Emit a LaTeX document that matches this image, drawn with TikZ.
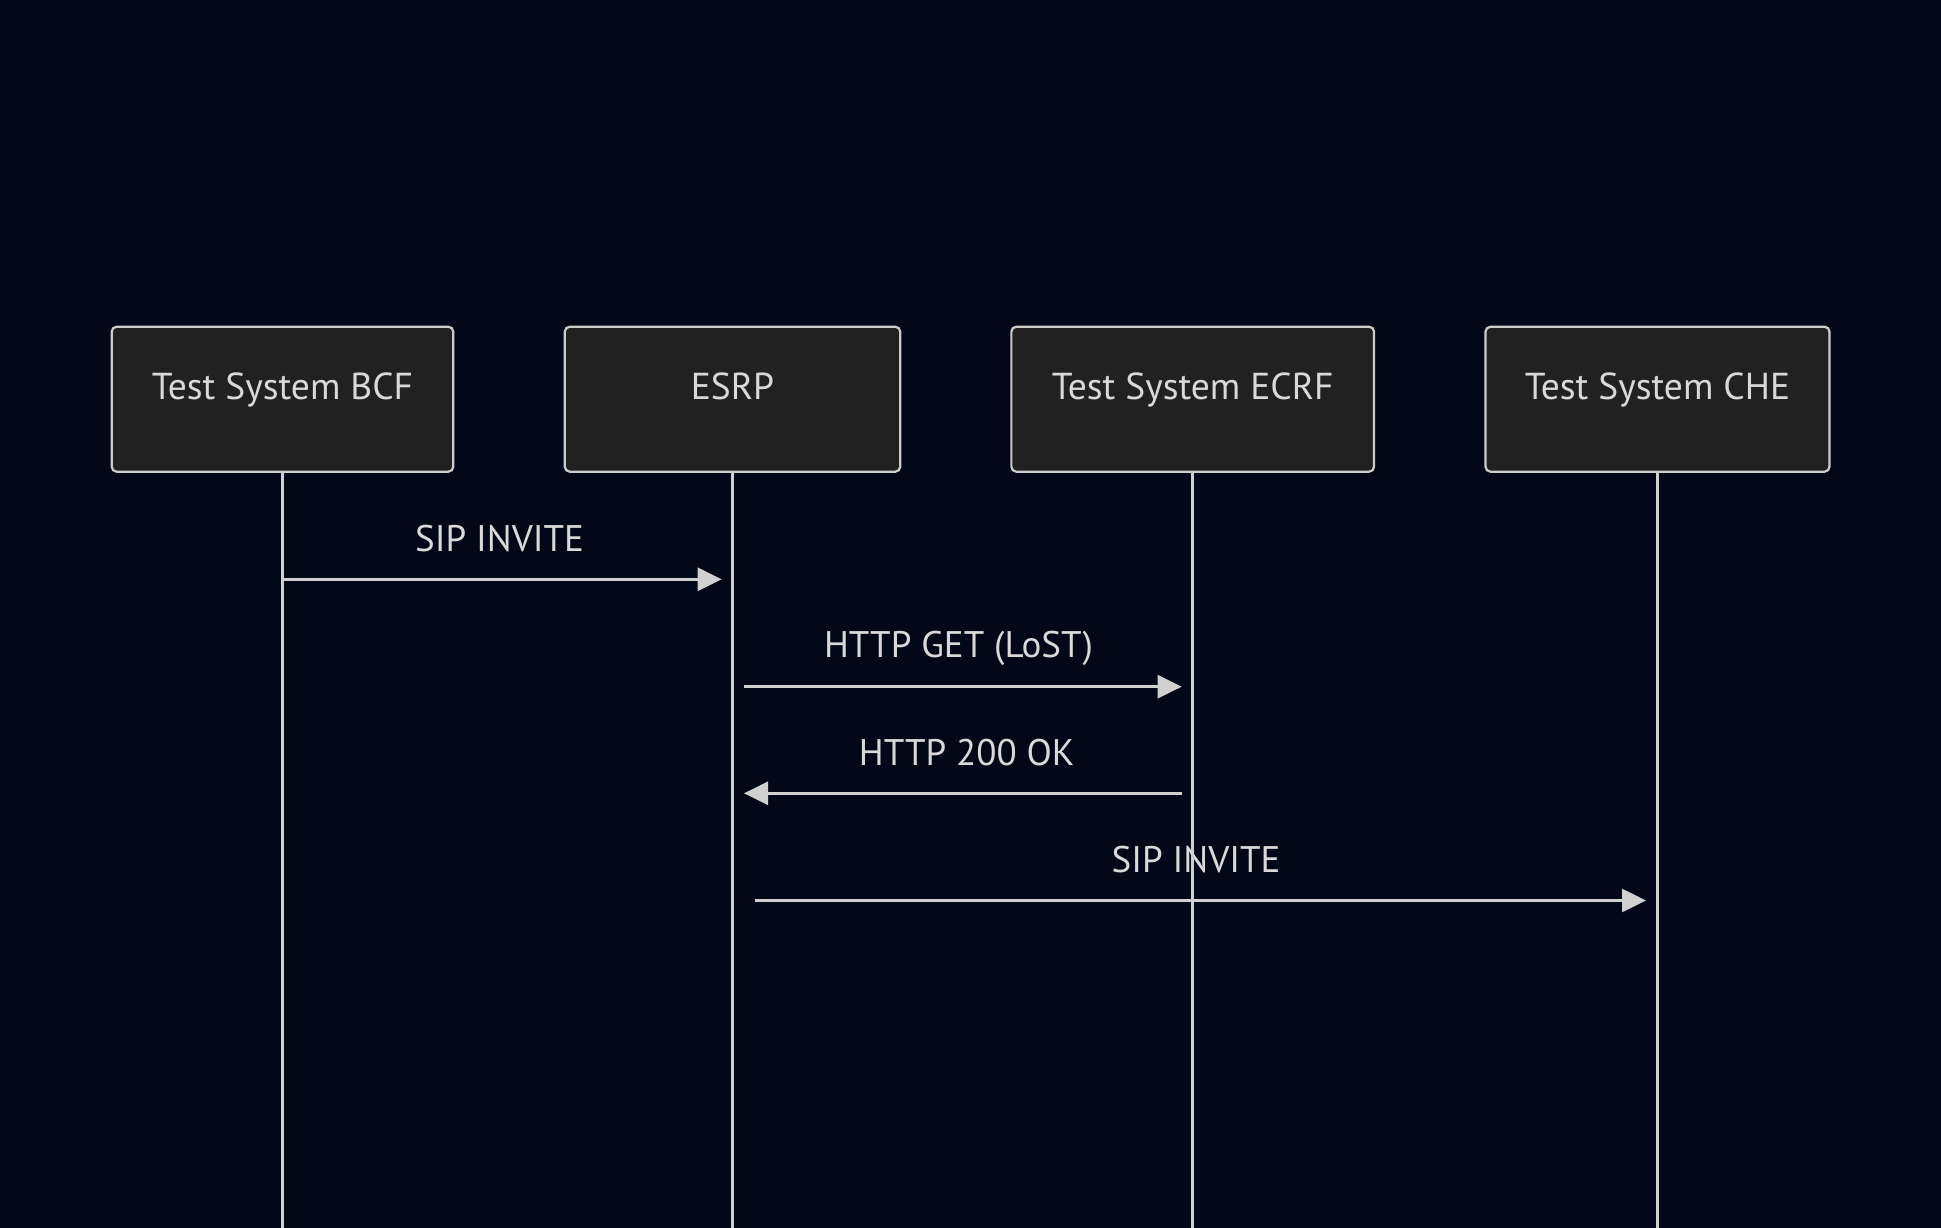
\documentclass[tikz,border=0pt]{standalone}
\usepackage{fontspec}
\setmainfont{PT Sans}
\usetikzlibrary{arrows.meta}
\definecolor{bg}{HTML}{020817}
\definecolor{boxfill}{HTML}{212121}
\definecolor{edgec}{HTML}{CCCCCC}
\definecolor{linec}{HTML}{D0D0D0}
\definecolor{txt}{HTML}{D9D9D9}
\tikzset{
  actor/.style={draw=edgec, fill=boxfill, line width=2.2pt, rounded corners=5pt,
    minimum height=145pt, inner sep=0pt, text=txt,
    font=\fontsize{37.5}{42}\selectfont, text height=26pt, text depth=25pt},
  lifeline/.style={draw=linec, line width=3.4pt},
  msg/.style={draw=linec, line width=2.6pt, -{Triangle[length=24pt,width=23pt]}},
  msglabel/.style={text=txt, font=\fontsize{37}{42}\selectfont, anchor=base, inner sep=0pt}
}
\begin{document}
\begin{tikzpicture}[x=1pt,y=-1pt]
\fill[bg] (0,0) rectangle (1941,1228);
\useasboundingbox (0,0) rectangle (1941,1228);

% message arrows
\coordinate (m1s) at (283,579.3);
\coordinate (m1e) at (721.7,579.3);
\coordinate (m2s) at (744,686.7);
\coordinate (m2e) at (1181.7,686.7);
\coordinate (m3s) at (1181.7,793.3);
\coordinate (m3e) at (744,793.3);
\coordinate (m4s) at (755,900.5);
\coordinate (m4e) at (1646,900.5);

\draw[msg] (m1s) -- (m1e);
\draw[msg] (m2s) -- (m2e);
\draw[msg] (m3s) -- (m3e);
\draw[msg] (m4s) -- (m4e);

\node[msglabel] (l1) at (499.5,551.7) {SIP INVITE};
\node[msglabel] (l2) at (958.5,657.3) {HTTP GET (LoST)};
\node[msglabel] (l3) at (966.7,765) {HTTP 200 OK};
\node[msglabel] (l4) at (1196,872.5) {SIP INVITE};

% actors
\node[actor, minimum width=341.6pt] (bcf) at (282.5,399.2) {Test System BCF};
\node[actor, minimum width=335.5pt] (esrp) at (732.5,399.2) {ESRP};
\node[actor, minimum width=362.7pt] (ecrf) at (1192.7,399.2) {Test System ECRF};
\node[actor, minimum width=344pt] (che) at (1657.5,399.2) {Test System CHE};

% lifelines
\coordinate (bcfend) at (282.5,1228);
\coordinate (esrpend) at (732.5,1228);
\coordinate (ecrfend) at (1192.7,1228);
\coordinate (cheend) at (1657.5,1228);
\draw[lifeline] (bcf.south) -- (bcfend);
\draw[lifeline] (esrp.south) -- (esrpend);
\draw[lifeline] (ecrf.south) -- (ecrfend);
\draw[lifeline] (che.south) -- (cheend);
\end{tikzpicture}
\end{document}
